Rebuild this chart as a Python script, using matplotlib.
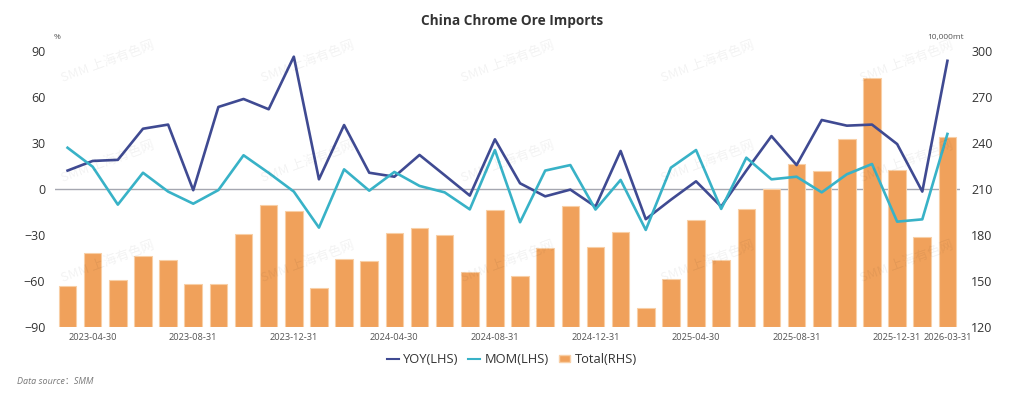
import numpy as np
import matplotlib.pyplot as plt
from matplotlib.patches import Patch
from matplotlib.lines import Line2D

plt.rcParams['font.family'] = ['Open Sans', 'DejaVu Sans']

# categories (month ends; Jan-Feb 2026 reported together)
dates = ['2023-03-31', '2023-04-30', '2023-05-31', '2023-06-30', '2023-07-31', '2023-08-31',
         '2023-09-30', '2023-10-31', '2023-11-30', '2023-12-31', '2024-01-31', '2024-02-29',
         '2024-03-31', '2024-04-30', '2024-05-31', '2024-06-30', '2024-07-31', '2024-08-31',
         '2024-09-30', '2024-10-31', '2024-11-30', '2024-12-31', '2025-01-31', '2025-02-28',
         '2025-03-31', '2025-04-30', '2025-05-31', '2025-06-30', '2025-07-31', '2025-08-31',
         '2025-09-30', '2025-10-31', '2025-11-30', '2025-12-31', '2026-02-28', '2026-03-31']

# Total imports, 10,000 mt (RHS)
total = [147, 168, 150.5, 166.5, 163.5, 148, 148, 180.5, 199.5, 195.5, 145.5, 164.5,
         163, 181, 184.5, 180, 156, 196.5, 153.5, 171.5, 199, 172, 182, 132.5,
         151, 190, 163.5, 197, 210, 226.5, 222, 242.5, 282.5, 222.5, 178.5, 244]

# YOY %, LHS
yoy = [12, 18.3, 19, 39.3, 42, -0.8, 53.5, 58.7, 52, 86.3, 6.3, 41.7,
       10.6, 8, 22.2, 9, -4.3, 32.4, 3.7, -4.8, -0.4, -11.5, 24.8, -19.7,
       -7, 5, -11.5, 12, 34.5, 15.6, 45, 41.3, 42, 29.3, -1.7, 83.6]

# MOM %, LHS
mom = [26.9, 14.5, -10.2, 10.6, -1.7, -9.6, -0.7, 22, 10.5, -1.7, -25.2, 12.8,
       -1.1, 11.1, 2, -2.2, -13.3, 25.4, -21.7, 12, 15.6, -13.4, 5.9, -26.7,
       13.9, 25.4, -13, 20.4, 6.3, 8, -2.2, 9.6, 16.3, -21.3, -19.8, 35.9]

label_idx = [1, 5, 9, 13, 17, 21, 25, 29, 33, 35]

c_yoy = '#3f4a92'
c_mom = '#38b2c7'
c_bar = '#f0a15b'

fig = plt.figure(figsize=(10.24, 3.99), dpi=100)
ax = fig.add_axes([0.0537, 0.1805, 0.8838, 0.6917])
ax2 = ax.twinx()
ax.set_zorder(ax2.get_zorder() + 1)
ax.patch.set_visible(False)

x = np.arange(len(dates))

# bars on RHS
ax2.bar(x, np.array(total) - 120, bottom=120, width=0.7, color=c_bar,
        edgecolor='#f8cfa6', linewidth=0.8, zorder=2)
ax2.axhline(210, color='#a5a7b0', linewidth=1.0, zorder=1)  # 0 on LHS
ax2.set_ylim(120, 300)
ax2.set_yticks(np.arange(120, 301, 30))

# lines on LHS
ax.plot(x, yoy, color=c_yoy, linewidth=1.9, zorder=3)
ax.plot(x, mom, color=c_mom, linewidth=1.9, zorder=3)
ax.set_ylim(-90, 90)
ax.set_yticks(np.arange(-90, 91, 30))
ax.set_xlim(-0.5, len(dates) - 0.5)
ax.set_xticks(label_idx)
ax.set_xticklabels([dates[i] for i in label_idx], fontsize=6.7, color='#555555')

for a in (ax, ax2):
    for s in a.spines.values():
        s.set_visible(False)
ax.tick_params(axis='x', length=0, pad=4)
ax.tick_params(axis='y', length=0, pad=7, labelsize=9, labelcolor='#333333')
ax2.tick_params(axis='y', length=0, pad=8, labelsize=9, labelcolor='#333333')

# watermark
for wy in [0.845, 0.594, 0.343]:
    for wx in [0.105, 0.301, 0.496, 0.691, 0.886]:
        fig.text(wx, wy, 'SMM 上海有色网', rotation=20, ha='center', va='center',
                 fontsize=9.5, color='#000000', alpha=0.05,
                 family=['Noto Sans CJK SC', 'DejaVu Sans'], zorder=10)

fig.text(0.5, 0.948, 'China Chrome Ore Imports', ha='center', va='center',
         fontsize=9.8, fontweight='bold', color='#333333')
fig.text(0.0557, 0.907, '%', ha='center', va='center', fontsize=6, color='#555555')
fig.text(0.923, 0.907, '10,000mt', ha='center', va='center', fontsize=6, color='#555555')
fig.text(0.017, 0.045, 'Data source：SMM', ha='left', va='center', fontsize=6.5,
         style='italic', color='#777777', family=['Open Sans', 'Noto Sans CJK SC'])

handles = [Line2D([], [], color=c_yoy, linewidth=1.5),
           Line2D([], [], color=c_mom, linewidth=1.5),
           Patch(facecolor=c_bar, edgecolor='#f8cfa6')]
fig.legend(handles, ['YOY(LHS)', 'MOM(LHS)', 'Total(RHS)'], loc='center',
           bbox_to_anchor=(0.5, 0.098), ncol=3, frameon=False, fontsize=9.3,
           handlelength=0.9, handleheight=0.45, handletextpad=0.35, columnspacing=0.75,
           labelcolor='#333333')

fig.savefig('out.png', dpi=100)
